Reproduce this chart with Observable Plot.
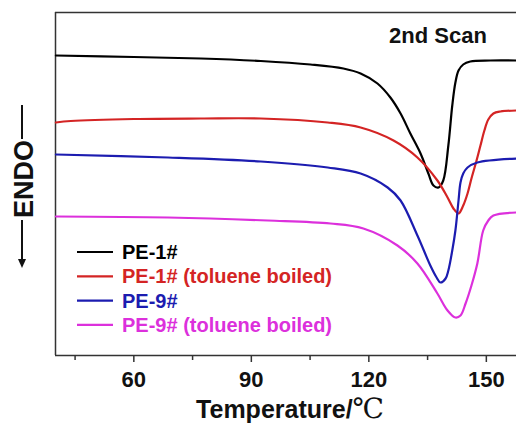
<!DOCTYPE html>
<html><head><meta charset="utf-8">
<script src="https://cdn.jsdelivr.net/npm/d3@7"></script>
<script src="https://cdn.jsdelivr.net/npm/@observablehq/plot@0.6"></script>
<style>body{margin:0;background:#fff}#chart{width:516px;height:423px;overflow:hidden}</style>
</head><body><div id="chart"></div>
<script>
const seriesNames = ["PE-1#", "PE-1# (toluene boiled)", "PE-9#", "PE-9# (toluene boiled)"];
const seriesColors = ["#000000", "#d42424", "#1c1cb0", "#dc30dc"];
const majorTicks = [60, 90, 120, 150];
const minorTicks = [45, 75, 105, 135];
const xDomain = [40, 157.7];
const yDomain = [0, 34.3];

const pe1Temp = [40.1, 60, 77.1, 92.4, 105.1, 113.5, 117.9, 122.2, 125.5, 128.1, 130.6, 133.2, 135.2, 136.5, 137.8, 139.0, 140.3, 141.3, 142.1, 142.9, 144.1, 145.9, 151.0, 157.7];
const pe1Flow = [30.0, 29.85, 29.7, 29.45, 29.1, 28.7, 28.2, 27.2, 25.8, 24.2, 22.2, 20.2, 18.2, 17.0, 16.8, 17.5, 21.0, 25.0, 27.3, 28.5, 29.1, 29.4, 29.5, 29.5];

const pe1bTemp = [40.1, 43.9, 60, 77.1, 92.4, 109.5, 117.9, 126.3, 132.4, 137.5, 140.1, 141.6, 142.9, 144.1, 145.2, 146.2, 147.5, 148.5, 149.5, 150.5, 151.8, 153.6, 157.7];
const pe1bFlow = [23.3, 23.45, 23.65, 23.7, 23.7, 23.3, 22.8, 21.5, 19.8, 17.5, 15.8, 14.7, 14.2, 15.0, 16.2, 17.7, 19.5, 21.0, 22.5, 23.6, 24.2, 24.4, 24.5];

const pe9Temp = [40.1, 68.7, 92.4, 109.5, 117.9, 124.8, 128.1, 132.4, 135.7, 137.3, 138.3, 139.6, 140.3, 141.3, 142.1, 142.9, 143.4, 144.1, 145.2, 147.7, 157.7];
const pe9Flow = [20.1, 19.8, 19.4, 18.8, 18.2, 16.8, 15.5, 12.0, 9.0, 7.8, 7.3, 7.7, 8.5, 10.5, 12.5, 15.5, 17.3, 18.2, 18.8, 19.3, 19.7];

const pe9bTemp = [40.1, 68.7, 94.2, 110.2, 118.6, 127.3, 132.4, 137.5, 140.1, 142.1, 143.4, 144.7, 146.2, 147.7, 149.2, 150.5, 151.8, 157.7];
const pe9bFlow = [13.9, 13.8, 13.5, 13.2, 12.7, 11.0, 9.2, 6.2, 4.5, 3.8, 4.0, 5.2, 7.0, 9.2, 12.5, 13.5, 14.0, 14.3];

const seriesTemps = [pe1Temp, pe1bTemp, pe9Temp, pe9bTemp];
const seriesFlows = [pe1Flow, pe1bFlow, pe9Flow, pe9bFlow];

const data = [];
seriesNames.forEach((name, i) => {
  seriesTemps[i].forEach((t, j) => data.push({series: name, t, v: seriesFlows[i][j]}));
});

const FONT = "'Liberation Sans', Arial, Helvetica, sans-serif";

const plot = Plot.plot({
  width: 516, height: 423,
  marginLeft: 55, marginRight: 0, marginTop: 12, marginBottom: 68,
  x: {domain: xDomain},
  y: {domain: yDomain, axis: null},
  color: {domain: seriesNames, range: seriesColors},
  style: {fontFamily: FONT, background: "#fff", overflow: "visible"},
  marks: [
    Plot.ruleX([xDomain[0]], {stroke: "#333", strokeWidth: 1.5}),
    Plot.ruleY(yDomain, {stroke: "#333", strokeWidth: 1.5}),
    Plot.line(data, {x: "t", y: "v", z: "series", stroke: "series", strokeWidth: 2.2, curve: "catmull-rom"}),
    Plot.axisX({ticks: majorTicks, tickSize: 7, tickPadding: 9, fontSize: 22, fontWeight: "bold", fill: "#111", stroke: "#333", strokeWidth: 1.5, label: null}),
    Plot.axisX({ticks: minorTicks, tickSize: 5, text: null, stroke: "#333", strokeWidth: 1.5, label: null})
  ]
});
document.getElementById("chart").appendChild(plot);

const svg = d3.select(plot);
// "2nd Scan"
svg.append("text").attr("x", 438).attr("y", 43).attr("text-anchor", "middle")
  .attr("font-family", FONT).attr("font-weight", "bold").attr("font-size", 22).attr("fill", "#111").text("2nd Scan");

// legend
seriesNames.forEach((name, i) => {
  const cy = 252 + 24.3 * i;
  svg.append("line").attr("x1", 77).attr("x2", 113).attr("y1", cy).attr("y2", cy)
    .attr("stroke", seriesColors[i]).attr("stroke-width", 2.2);
  svg.append("text").attr("x", 122).attr("y", cy + 7).attr("text-anchor", "start").attr("font-family", FONT)
    .attr("font-weight", "bold").attr("font-size", 20).attr("fill", seriesColors[i]).text(name);
});

// y label ENDO with arrow
svg.append("line").attr("x1", 22).attr("x2", 22).attr("y1", 105).attr("y2", 139).attr("stroke", "#111").attr("stroke-width", 2);
svg.append("text").attr("transform", "translate(23,179) rotate(-90)").attr("text-anchor", "middle").attr("dy", "0.36em")
  .attr("font-family", FONT).attr("font-weight", "bold").attr("font-size", 27).attr("fill", "#111").text("ENDO");
svg.append("line").attr("x1", 22).attr("x2", 22).attr("y1", 220).attr("y2", 262).attr("stroke", "#111").attr("stroke-width", 2);
svg.append("path").attr("d", "M18,259 L26,259 L22,268 Z").attr("fill", "#111");

// x title
const title = svg.append("text").attr("x", 290).attr("y", 418).attr("text-anchor", "middle").attr("fill", "#111");
title.append("tspan").attr("font-family", FONT).attr("font-weight", "bold").attr("font-size", 25).text("Temperature/");
title.append("tspan").attr("font-family", "'Liberation Serif', 'DejaVu Serif', serif").attr("font-size", 28).text("℃");
</script>
</body></html>
